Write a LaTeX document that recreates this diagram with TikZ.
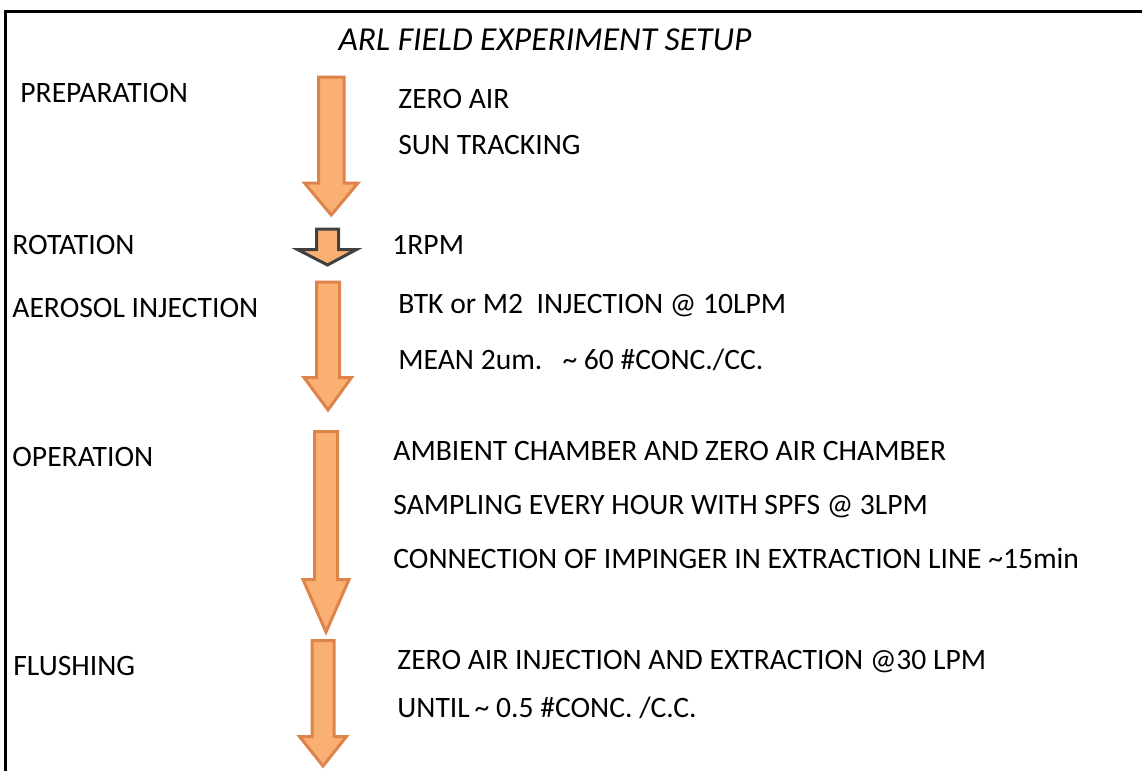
\documentclass[tikz,border=0pt]{standalone}
\usepackage{fontspec}
\setmainfont{Carlito}
\usepackage{tikz}
\usetikzlibrary{arrows}

\definecolor{stagefill}{RGB}{250,176,114}
\definecolor{stageline}{RGB}{222,131,73}
\definecolor{turnline}{RGB}{64,64,64}

\begin{document}
\begin{tikzpicture}[
x=0.5pt,
y=-0.5pt,
line join=miter,
stage label/.style={anchor=base west,
								inner sep=0pt,
								font=\fontsize{14.8}{17}\selectfont},
step text/.style={stage label},
stage arrow/.style={fill=stagefill,
								draw=stageline,
								line width=1.5pt},
turn arrow/.style={stage arrow,
								draw=turnline}]
\useasboundingbox (0,0) rectangle (1142,771);
%frame
  \draw[line width=1.5pt] (5.5,771) -- (5.5,11) -- (1142,11);
%title
  \node[anchor=base, inner sep=0pt, font=\fontsize{16.75}{20}\selectfont\itshape] (title) at (545,50) {ARL FIELD EXPERIMENT SETUP};
%1
  \node[stage label] (prep) at (20,102) {PREPARATION};
  \draw[stage arrow] (318.5,77) -- (344,77) -- (344,183) -- (358,183) -- (331.25,215) -- (304.5,183) -- (318.5,183) -- cycle;
  \node[step text] (zeroair) at (398,108) {ZERO AIR};
  \node[step text] (suntrack) at (398,154) {SUN TRACKING};
%2
  \node[stage label] (rot) at (12,254) {ROTATION};
  \draw[turn arrow] (316.5,229) -- (338.5,229) -- (338.5,249.5) -- (356.5,249.5) -- (327.5,265) -- (297.5,249.5) -- (316.5,249.5) -- cycle;
  \node[step text] (rpm) at (392,254) {1RPM};
%3
  \node[stage label] (aero) at (12,317) {AEROSOL INJECTION};
  \draw[stage arrow] (316.5,282) -- (339.5,282) -- (339.5,377.5) -- (351.5,377.5) -- (328,410) -- (304,377.5) -- (316.5,377.5) -- cycle;
  \node[step text] (btk) at (398,313) {BTK or M2\ \ INJECTION @ 10LPM};
  \node[step text] (mean) at (398,369) {MEAN 2um.\ \ \ \textasciitilde\ 60 \#CONC./CC.};
%4
  \node[stage label] (oper) at (12,466) {OPERATION};
  \draw[stage arrow] (314.5,431.5) -- (337.5,431.5) -- (337.5,579.5) -- (349,579.5) -- (326,632) -- (303,579.5) -- (314.5,579.5) -- cycle;
  \node[step text] (ambient) at (393,460) {AMBIENT CHAMBER AND ZERO AIR CHAMBER};
  \node[step text] (sampling) at (393,514) {SAMPLING EVERY HOUR WITH SPFS @ 3LPM};
  \node[step text] (connection) at (393,568) {CONNECTION OF IMPINGER IN EXTRACTION LINE \textasciitilde15min};
%5
  \node[stage label] (flush) at (13,675) {FLUSHING};
  \draw[stage arrow] (312,640.5) -- (334,640.5) -- (334,736.5) -- (346.5,736.5) -- (323,766) -- (299.5,736.5) -- (312,736.5) -- cycle;
  \node[step text] (zeroinj) at (397,669) {ZERO AIR INJECTION AND EXTRACTION @30 LPM};
  \node[step text] (until) at (397,717) {UNTIL\,\textasciitilde\ 0.5 \#CONC. /C.C.};
\end{tikzpicture}
\end{document}
